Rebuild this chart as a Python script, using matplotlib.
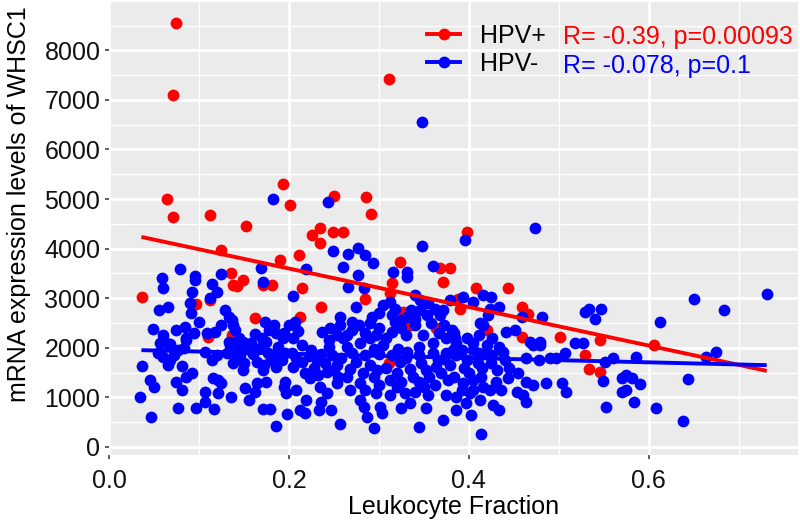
import matplotlib
matplotlib.use('Agg')
import matplotlib.pyplot as plt
from matplotlib.lines import Line2D
from matplotlib.ticker import MultipleLocator
import numpy as np

plt.rcParams['font.family'] = ['Liberation Sans', 'DejaVu Sans']

# ---------------- data ----------------
groups = ['HPV+', 'HPV-']
group_colors = ['#FF0000', '#0000FF']
stat_labels = ['R= -0.39, p=0.00093', 'R= -0.078, p=0.1']
x_ticks = [0.0, 0.2, 0.4, 0.6]
x_tick_labels = ['0.0', '0.2', '0.4', '0.6']
y_ticks = [0, 1000, 2000, 3000, 4000, 5000, 6000, 7000, 8000]
x_title = 'Leukocyte Fraction'
y_title = 'mRNA expression levels of WHSC1'

# linear fits as drawn in the reference (value at x start / x end)
fit_x = [0.036, 0.731]
hpv_pos_fit_y = [4236, 1534]
hpv_neg_fit_y = [1952, 1649]

hpv_pos_x = [0.075, 0.071, 0.311, 0.064, 0.071, 0.112, 0.152, 0.193, 0.201, 0.250,
             0.286, 0.291, 0.226, 0.234, 0.234, 0.249, 0.260, 0.124, 0.398, 0.037,
             0.136, 0.138, 0.097, 0.112, 0.110, 0.190, 0.211, 0.149, 0.142, 0.171,
             0.181, 0.214, 0.236, 0.162, 0.212, 0.137, 0.323, 0.368, 0.379, 0.371,
             0.315, 0.312, 0.284, 0.327, 0.336, 0.363, 0.408, 0.444, 0.388, 0.390,
             0.459, 0.466, 0.420, 0.459, 0.501, 0.546, 0.606, 0.529, 0.534, 0.546,
             0.311]
hpv_pos_y = [8560, 7100, 7420, 5010, 4640, 4680, 4465, 5300, 4890, 5070,
             5040, 4690, 4280, 4410, 4120, 4340, 4340, 3980, 4345, 3030,
             3500, 3260, 2890, 2960, 2220, 3770, 3870, 3360, 3250, 3260,
             3260, 3210, 2830, 2600, 2620, 2250, 3730, 3610, 3610, 3320,
             3300, 3100, 2990, 2720, 2460, 2400, 3200, 3200, 2990, 2790,
             2830, 2690, 2355, 2220, 2220, 2150, 2050, 1850, 1580, 1510,
             1700]

hpv_neg_x = [0.182, 0.243, 0.348, 0.348, 0.249, 0.266, 0.277, 0.396, 0.473,
             0.079, 0.059, 0.060, 0.096, 0.096, 0.114, 0.124, 0.120, 0.112, 0.092,
             0.090, 0.091, 0.066, 0.056, 0.100, 0.049, 0.074, 0.084, 0.086, 0.109,
             0.118, 0.129, 0.133, 0.057, 0.068, 0.133,
             0.169, 0.171, 0.219, 0.205, 0.260, 0.257, 0.138, 0.173, 0.183, 0.207,
             0.210, 0.162, 0.186, 0.193, 0.237, 0.246, 0.253, 0.149, 0.175,
             0.284, 0.293, 0.316, 0.331, 0.331, 0.360, 0.277, 0.266, 0.283, 0.274,
             0.270, 0.292, 0.305, 0.312, 0.318, 0.315, 0.340, 0.346, 0.355, 0.362,
             0.368, 0.371, 0.379, 0.336, 0.331, 0.346, 0.353, 0.340, 0.318, 0.315,
             0.325, 0.257, 0.278, 0.264, 0.290, 0.297, 0.349, 0.367, 0.375,
             0.394, 0.405, 0.416, 0.425, 0.434, 0.423, 0.421, 0.412, 0.416, 0.459,
             0.481, 0.381, 0.385, 0.398, 0.411, 0.426, 0.441, 0.451, 0.468, 0.479,
             0.533, 0.529, 0.547, 0.540, 0.612, 0.650, 0.683, 0.731, 0.518, 0.527,
             0.675, 0.664, 0.586, 0.560, 0.551, 0.507, 0.643, 0.549, 0.570, 0.575,
             0.581, 0.590, 0.570, 0.575, 0.503, 0.508, 0.584, 0.552, 0.608, 0.638,
             0.077, 0.060, 0.068, 0.066, 0.086, 0.037, 0.081, 0.092, 0.086, 0.075,
             0.081, 0.046, 0.050, 0.035, 0.047, 0.077, 0.097, 0.107, 0.107, 0.117,
             0.116, 0.121, 0.125, 0.121, 0.136, 0.107, 0.114, 0.120, 0.131, 0.134,
             0.138,
             0.142, 0.155, 0.149, 0.164, 0.171, 0.177, 0.188, 0.192, 0.203, 0.214,
             0.214, 0.225, 0.231, 0.244, 0.253, 0.242, 0.255, 0.223, 0.205, 0.186,
             0.151, 0.164, 0.175, 0.162, 0.156, 0.196, 0.194, 0.197, 0.208, 0.219,
             0.212, 0.218, 0.171, 0.179, 0.198, 0.186, 0.233, 0.236, 0.247, 0.242,
             0.253, 0.257, 0.234,
             0.264, 0.279, 0.294, 0.305, 0.321, 0.331, 0.344, 0.360, 0.375, 0.275,
             0.290, 0.323, 0.347, 0.364, 0.379, 0.264, 0.279, 0.294, 0.312, 0.320,
             0.338, 0.356, 0.369, 0.377, 0.297, 0.312, 0.329, 0.340, 0.355, 0.375,
             0.279, 0.283, 0.301, 0.325, 0.334, 0.352, 0.303, 0.287, 0.295, 0.344,
             0.371,
             0.386, 0.405, 0.420, 0.434, 0.411, 0.426, 0.438, 0.471, 0.479, 0.386,
             0.398, 0.410, 0.431, 0.444, 0.455, 0.464, 0.478, 0.490, 0.497, 0.383,
             0.394, 0.405, 0.414, 0.416, 0.423, 0.436, 0.464, 0.471, 0.486, 0.453,
             0.460, 0.464, 0.386, 0.401, 0.397, 0.412, 0.386, 0.427, 0.433, 0.402,
             0.413,
             # points inside the densest overlapping clusters (estimated)
             0.146, 0.160, 0.150, 0.168, 0.158, 0.138, 0.172, 0.180,
             0.222, 0.236, 0.248, 0.228, 0.240, 0.218, 0.232, 0.250, 0.258, 0.208,
             0.196, 0.185,
             0.270, 0.285, 0.300, 0.315, 0.330, 0.345, 0.360, 0.372, 0.268, 0.282,
             0.298, 0.308, 0.334, 0.352, 0.366, 0.382, 0.300, 0.325, 0.345, 0.362,
             0.285, 0.350, 0.320, 0.268,
             0.392, 0.405, 0.420, 0.395, 0.415, 0.425, 0.440, 0.392, 0.405, 0.430,
             0.445, 0.400,
             0.140, 0.145, 0.137, 0.178, 0.195, 0.200, 0.170, 0.205, 0.245, 0.260,
             0.270, 0.285, 0.300, 0.308, 0.330, 0.340, 0.358, 0.372, 0.383, 0.290,
             0.300, 0.325, 0.125, 0.095, 0.060, 0.055, 0.072, 0.083, 0.063]
hpv_neg_y = [5000, 4935, 6550, 4050, 3950, 3900, 4020, 4183, 4417,
             3585, 3410, 3208, 3450, 3357, 3296, 3484, 3115, 2994, 3127,
             2893, 2704, 2825, 2758, 2510, 2375, 2355, 2409, 2200, 2288,
             2308, 2758, 2623, 2087, 2067, 2119,
             3611, 3329, 3585, 3046, 3631, 2623, 2456, 2522, 2456, 2522,
             2335, 2268, 2288, 2188, 2321, 2389, 2254, 2119, 2119,
             3867, 3700, 3530, 3530, 3429, 3651, 3464, 3228, 3196, 2825,
             2522, 2623, 2859, 2926, 2792, 2657, 3060, 2960, 2893, 2792,
             2657, 2758, 2960, 2758, 2623, 2758, 2657, 2590, 2522, 2321,
             2389, 2456, 2456, 2254, 2188, 2254, 2254, 2288, 2188,
             3026, 2926, 3060, 3026, 2825, 2792, 2657, 2490, 2456, 2623,
             2623, 2355, 2188, 2188, 2254, 2188, 2321, 2355, 2119, 2119,
             2792, 2724, 2792, 2590, 2522, 2980, 2752, 3087, 2087, 2087,
             1917, 1817, 1804, 1784, 1716, 1885, 1367, 1327, 1381, 1448,
             1381, 1260, 1111, 1145, 1280, 1111, 909, 808, 776, 526,
             1952, 1817, 1750, 1649, 2153, 1629, 1629, 1482, 1413, 1313,
             1145, 1347, 1212, 1010, 595, 776, 776, 1111, 909, 756,
             1381, 1347, 1280, 1079, 1010, 1917, 1750, 1851, 1885, 2052,
             1683,
             2018, 1985, 1548, 1716, 1548, 1885, 2018, 1750, 1885, 2052,
             1716, 1952, 1750, 2018, 1649, 1514, 1413, 1381, 1615, 1615,
             1179, 1280, 1313, 1111, 944, 1313, 1212, 1079, 1145, 944,
             742, 675, 756, 756, 661, 419, 742, 909, 742, 1079,
             1280, 460, 1212,
             2018, 2087, 1985, 2052, 1985, 1917, 2018, 2087, 1885, 1716,
             1649, 1716, 1683, 1615, 1649, 1413, 1280, 1413, 1347, 1482,
             1413, 1413, 1482, 1347, 1079, 1044, 1079, 1111, 1044, 1044,
             944, 808, 808, 776, 877, 776, 675, 595, 373, 393,
             540,
             2087, 2087, 2052, 2018, 1885, 1851, 1917, 2052, 2052, 1851,
             1750, 1683, 1548, 1381, 1482, 1784, 1750, 1784, 1784, 1413,
             1280, 1347, 1413, 1212, 1145, 1145, 1313, 1246, 1280, 1111,
             1044, 909, 1010, 1079, 877, 944, 742, 843, 742, 641,
             252,
             1850, 1880, 1700, 1990, 2100, 1900, 1650, 1760,
             1830, 1880, 1850, 1600, 1700, 1500, 1450, 1550, 1800, 1800,
             1900, 1880,
             1900, 1850, 1880, 1850, 1800, 1850, 1900, 1780, 1580, 1500,
             1560, 1600, 1580, 1560, 1750, 1950, 1250, 1300, 1300, 1250,
             1150, 1200, 1200, 1150,
             1950, 1950, 1900, 1600, 1600, 1700, 1750, 1150, 1150, 1300,
             1600, 1500,
             2350, 2200, 2550, 2350, 2300, 2450, 2200, 2200, 2150, 2200,
             2350, 2300, 2400, 2200, 2250, 2450, 2500, 2450, 2300, 2500,
             2700, 2550, 2450, 2300, 2250, 1900, 1850, 2000, 2100]

# ---------------- figure ----------------
W, H = 800, 524
fig = plt.figure(figsize=(W / 100, H / 100), dpi=100)
ax = fig.add_axes([109 / W, (H - 455) / H, 689 / W, 453 / H])
ax.set_facecolor('#EBEBEB')
for s in ax.spines.values():
    s.set_visible(False)

all_x = np.array(hpv_pos_x + hpv_neg_x)
all_y = np.array(hpv_pos_y + hpv_neg_y)
xr = all_x.max() - all_x.min()
yr = all_y.max() - all_y.min()
ax.set_xlim(all_x.min() - 0.05 * xr, all_x.max() + 0.05 * xr)
ax.set_ylim(all_y.min() - 0.05 * yr, all_y.max() + 0.05 * yr)

ax.set_xticks(x_ticks)
ax.set_xticklabels(x_tick_labels)
ax.set_yticks(y_ticks)
ax.xaxis.set_minor_locator(MultipleLocator(0.1))
ax.yaxis.set_minor_locator(MultipleLocator(500))
ax.grid(which='major', color='white', linewidth=2.0)
ax.grid(which='minor', color='white', linewidth=1.0)
ax.set_axisbelow(True)
ax.tick_params(which='major', length=3.2, width=1.1, color='#333333',
               labelsize=18, labelcolor='#111111')
ax.tick_params(axis='x', which='major', pad=7)
ax.tick_params(axis='y', which='major', pad=3)
ax.tick_params(which='minor', length=0)

series = [(hpv_pos_x, hpv_pos_y), (hpv_neg_x, hpv_neg_y)]
fits = [hpv_pos_fit_y, hpv_neg_fit_y]
for (xs, ys), col in zip(series, group_colors):
    ax.scatter(xs, ys, s=72, color=col, linewidths=0, zorder=3)
for fy, col in zip(fits, group_colors):
    ax.plot(fit_x, fy, color=col, linewidth=2.8, zorder=4,
            solid_capstyle='butt')

ax.set_xlabel(x_title, fontsize=18)
ax.set_ylabel(y_title, fontsize=18)
ax.xaxis.set_label_coords(0.5, (455 - 495) / 453)
ax.yaxis.set_label_coords((31 - 109) / 689, (455 - 204) / 453)

handles = [Line2D([], [], color=c, lw=2.8, marker='o', markersize=8.5,
                  markeredgewidth=0) for c in group_colors]
leg = ax.legend(handles, groups, loc='upper left',
                bbox_to_anchor=((427 - 109) / 689, (455 - 24) / 453),
                frameon=False, fontsize=18, handlelength=1.32,
                handletextpad=0.8, labelspacing=0.15, borderpad=0,
                borderaxespad=0)
row_y = [(455 - 37) / 453, (455 - 66) / 453]
for txt, col, yy in zip(stat_labels, group_colors, row_y):
    ax.text((563 - 109) / 689, yy, txt, color=col, fontsize=18,
            transform=ax.transAxes, ha='left', va='center')

fig.savefig('out.png', dpi=100)
